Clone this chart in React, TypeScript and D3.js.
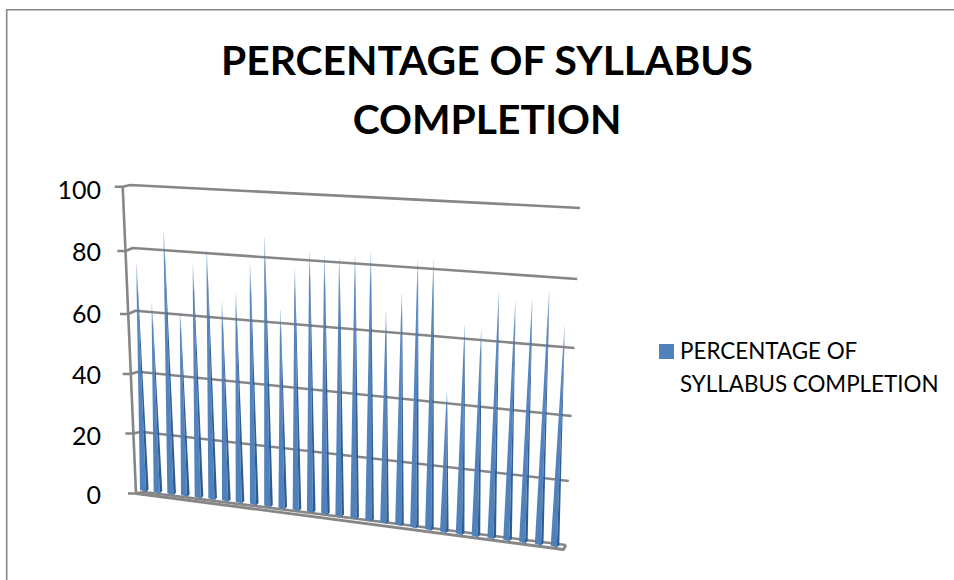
import React from "react";
import * as d3 from "d3";

const titleLines = ["PERCENTAGE OF SYLLABUS", "COMPLETION"];
const legendLines = ["PERCENTAGE OF", "SYLLABUS COMPLETION"];
const yTicks = [0, 20, 40, 60, 80, 100];
const values = [75, 63, 86, 61, 76, 81, 65, 68, 77.5, 86, 64, 77, 82.5, 82, 81.5, 82.5, 83.5, 66, 72, 82.3, 82.6, 43.4, 64, 63, 74.5, 72, 73, 76, 66];

const FONT = "Lato, 'Open Sans', sans-serif";
const GRID = "#868686";

// projection of the 3D plot
const gridStartY = d3.scaleLinear().domain(yTicks).range([492, 431.7, 371.7, 310.7, 248, 185]);
const gridEndY = d3.scaleLinear().domain(yTicks).range([545, 481, 416, 348, 279, 208]);
const gridEndX = d3.scaleLinear().domain([0, 100]).range([566, 580]);
const axisX = d3.scaleLinear().domain([0, 100]).range([136, 122.7]);
const axisY = d3.scaleLinear().domain(yTicks).range([493.5, 433.5, 374, 314, 251, 186.7]);
const labelY = d3.scaleLinear().domain(yTicks).range([504, 445, 384, 323, 261, 199]);
const gridStartX = (v: number) => axisX(v) + 7.5;
const lastIndex = values.length - 1;
const knots = [0, 0.25, 0.5, 0.75, 1].map((f) => f * lastIndex);
const baseX = d3.scaleLinear().domain(knots).range([144.3, 240, 339.7, 444.3, 555]);
const baseY = d3.scaleLinear().domain(knots).range([490, 501.7, 515, 531.3, 545.7]);
const lean = d3.scaleLinear().domain(knots).range([-0.105, -0.063, -0.005, 0.06, 0.145]);

function gridY(v: number, x: number) {
  const t = (x - gridStartX(v)) / (gridEndX(v) - gridStartX(v));
  return gridStartY(v) + (gridEndY(v) - gridStartY(v)) * t;
}

const gridPath = d3.line<[number, number]>();

export default function App() {
  const spikes = values.map((v, i) => {
    const bx = baseX(i);
    const by = baseY(i);
    const tx = bx + lean(i) * v;
    const ty = gridY(v, tx);
    const halfW = 4.3;
    const left = gridPath([[bx - halfW, by], [tx - 0.25, ty], [tx + 0.25, ty], [bx + 1.8, by + 1.8]])! + "Z";
    const right = gridPath([[bx + 1.8, by + 1.8], [tx + 0.25, ty], [bx + halfW, by - 0.6]])! + "Z";
    return { left, right, tx, ty, bx, by, i };
  });

  return (
    <svg width={954} height={580} style={{ position: "absolute", left: 0, top: 0, background: "#fff" }} fontFamily={FONT}>
      <defs>
        {spikes.map((s) => (
          <React.Fragment key={s.i}>
            <linearGradient id={`l${s.i}`} gradientUnits="userSpaceOnUse" x1={s.tx} y1={s.ty} x2={s.bx} y2={s.by}>
              <stop offset="0" stopColor="#4f81bd" stopOpacity={0.3} />
              <stop offset="0.12" stopColor="#4f81bd" stopOpacity={0.95} />
              <stop offset="1" stopColor="#4f81bd" />
            </linearGradient>
            <linearGradient id={`r${s.i}`} gradientUnits="userSpaceOnUse" x1={s.tx} y1={s.ty} x2={s.bx} y2={s.by}>
              <stop offset="0" stopColor="#2c5a90" stopOpacity={0.3} />
              <stop offset="0.12" stopColor="#2c5a90" stopOpacity={0.95} />
              <stop offset="1" stopColor="#2f5c8f" />
            </linearGradient>
          </React.Fragment>
        ))}
      </defs>

      <path d="M6.7 580V9.7H954" fill="none" stroke={GRID} strokeWidth={1.6} />

      <g textAnchor="middle" fontWeight={700} fontSize={40.8} fill="#000">
        {titleLines.map((t, i) => (
          <text key={t} x={487} y={75 + i * 59}>{t}</text>
        ))}
      </g>

      {yTicks.map((v) => (
        <path
          key={v}
          d={gridPath([[gridEndX(v), gridEndY(v)], [gridStartX(v), gridStartY(v)], [axisX(v), axisY(v)], [axisX(v) - 8, axisY(v)]])!}
          fill="none"
          stroke={GRID}
          strokeWidth={2.6}
          strokeLinejoin="round"
        />
      ))}
      <path d={gridPath([[axisX(100), axisY(100)], [axisX(0), axisY(0)]])!} stroke={GRID} strokeWidth={2.6} fill="none" />
      <path
        d={gridPath([[axisX(0), axisY(0)], [563.5, 549.5], [gridEndX(0), gridEndY(0)]])!}
        stroke={GRID}
        strokeWidth={2.8}
        fill="none"
        strokeLinejoin="round"
      />

      {spikes.map((s) => (
        <g key={s.i}>
          <path d={s.left} fill={`url(#l${s.i})`} />
          <path d={s.right} fill={`url(#r${s.i})`} />
        </g>
      ))}

      <g textAnchor="end" fontSize={25} fill="#000">
        {yTicks.map((v) => (
          <text key={v} x={101} y={labelY(v)}>{v}</text>
        ))}
      </g>

      <rect x={659} y={344} width={15} height={15} fill="#4f81bd" />
      <g fontSize={22.4} fill="#000">
        {legendLines.map((t, i) => (
          <text key={t} x={680} y={359 + i * 33}>{t}</text>
        ))}
      </g>
    </svg>
  );
}
